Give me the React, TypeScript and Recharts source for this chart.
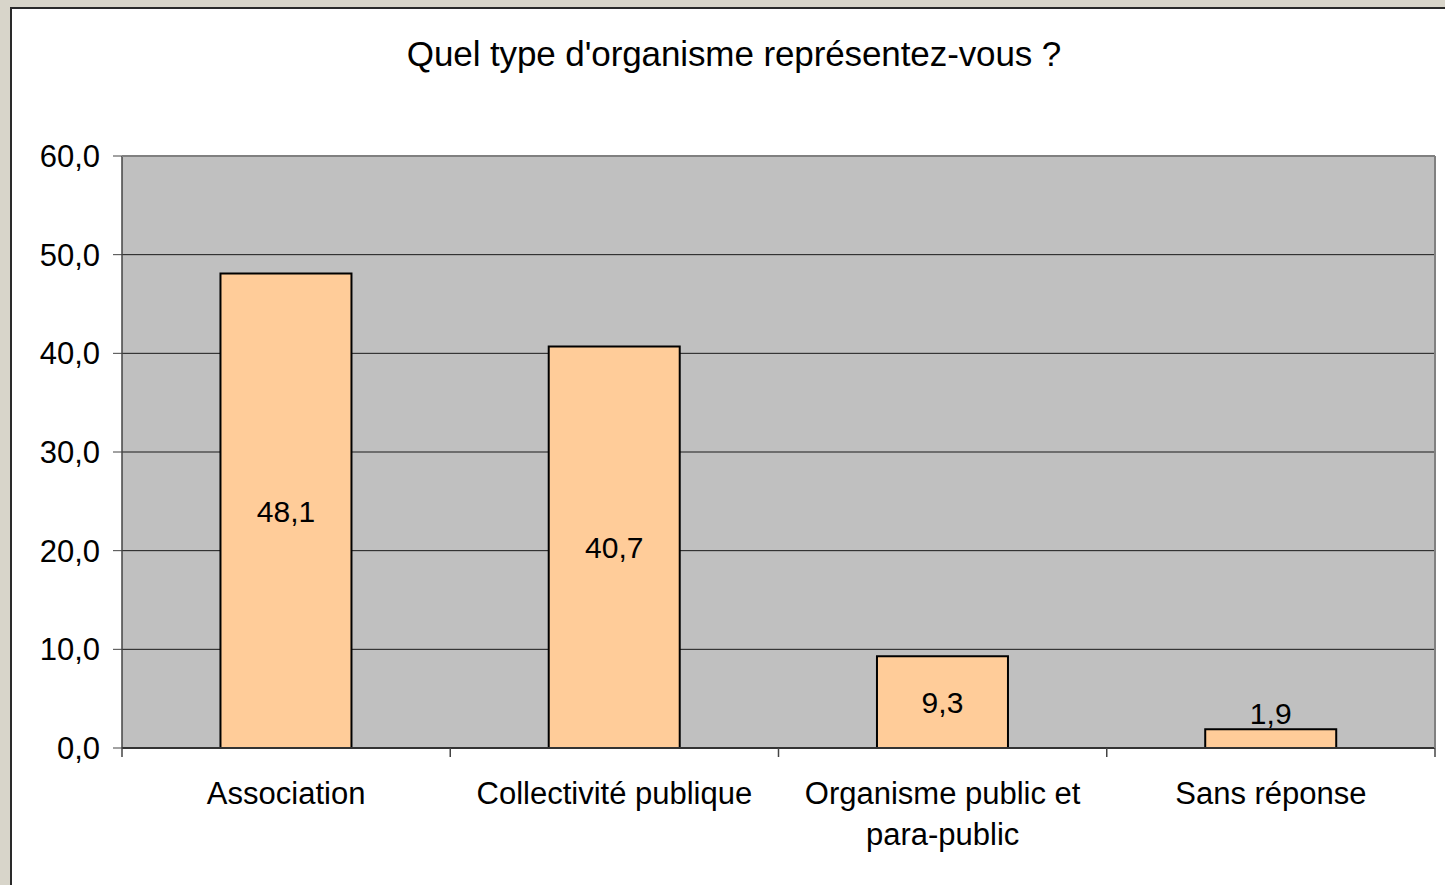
import { BarChart, Bar, XAxis, YAxis, CartesianGrid, LabelList } from "recharts";

const categories = ["Association", "Collectivité publique", "Organisme public et para-public", "Sans réponse"];
const percentages = [48.1, 40.7, 9.3, 1.9];
const yTicks = [0, 10, 20, 30, 40, 50, 60];

const data = categories.map((name, i) => ({ name, value: percentages[i] }));

const FONT = "'Liberation Sans', Arial, sans-serif";
const fmt = (v: number) => v.toFixed(1).replace(".", ",");

// greedy word wrap, max ~21 chars per line
const wrap = (s: string, max = 21) => {
  const lines: string[] = [];
  let cur = "";
  s.split(" ").forEach((w) => {
    const next = cur ? cur + " " + w : w;
    if (next.length > max && cur) {
      lines.push(cur);
      cur = w;
    } else cur = next;
  });
  if (cur) lines.push(cur);
  return lines;
};

const CategoryTick = (props: any) => {
  const { x, y, payload } = props;
  const lines = wrap(String(payload.value));
  return (
    <text x={x} y={y + 45} textAnchor="middle" fontFamily={FONT} fontSize={31} fill="#000">
      {lines.map((l, i) => (
        <tspan key={i} x={x} dy={i === 0 ? 0 : 41}>
          {l}
        </tspan>
      ))}
    </text>
  );
};

const ValueLabel = (props: any) => {
  const { x, y, width, height, value } = props;
  // short bars: label sits above the bar, like the original
  const small = height < 40;
  const cy = small ? y - 16 : y + height / 2;
  return (
    <text
      x={x + width / 2}
      y={cy}
      dy="0.36em"
      textAnchor="middle"
      fontFamily={FONT}
      fontSize={30}
      fill="#000"
    >
      {fmt(value)}
    </text>
  );
};

export default function App() {
  return (
    <div style={{ position: "absolute", left: 0, top: 0, width: 1445, height: 885, background: "#d8d5ca", overflow: "hidden" }}>
      <div
        style={{
          position: "absolute",
          left: 10,
          top: 7,
          width: 1460,
          height: 900,
          background: "#fff",
          border: "2px solid #2a2a2a",
        }}
      />
      <div
        style={{
          position: "absolute",
          left: 0,
          top: 34,
          width: 1468,
          textAlign: "center",
          fontFamily: FONT,
          fontSize: 35,
          color: "#000",
          letterSpacing: -0.1,
        }}
      >
        Quel type d'organisme représentez-vous ?
      </div>
      <div style={{ position: "absolute", left: 0, top: 0 }}>
        <BarChart
          width={1445}
          height={885}
          data={data}
          margin={{ top: 156, right: 10, bottom: 37, left: 10 }}
          barCategoryGap="30%"
        >
          <CartesianGrid
            vertical={false}
            fill="#c0c0c0"
            stroke="#1a1a1a"
            strokeWidth={1}
            horizontalValues={yTicks}
          />
          <XAxis
            dataKey="name"
            interval={0}
            height={100}
            tickSize={9}
            tickLine={false}
            axisLine={{ stroke: "#333", strokeWidth: 2 }}
            tick={<CategoryTick />}
          />
          <YAxis
            domain={[0, 60]}
            ticks={yTicks}
            width={112}
            tickSize={9}
            tickMargin={13}
            tickFormatter={fmt}
            axisLine={{ stroke: "#444", strokeWidth: 1.5 }}
            tickLine={{ stroke: "#444" }}
            tick={{ fontFamily: FONT, fontSize: 31, fill: "#000" }}
          />
          <Bar dataKey="value" fill="#ffcc99" stroke="#000" strokeWidth={2} isAnimationActive={false}>
            <LabelList dataKey="value" content={<ValueLabel />} />
          </Bar>
        </BarChart>
      </div>
      <svg style={{ position: "absolute", left: 0, top: 0 }} width={1445} height={885}>
        {[122, 450.25, 778.5, 1106.75, 1435].map((x) => (
          <line key={x} x1={x} x2={x} y1={748} y2={757} stroke="#444" strokeWidth={1.5} />
        ))}
        <line x1={122} x2={1435} y1={156} y2={156} stroke="#808080" strokeWidth={2} />
        <line x1={1435} x2={1435} y1={156} y2={748} stroke="#808080" strokeWidth={2} />
      </svg>
    </div>
  );
}
